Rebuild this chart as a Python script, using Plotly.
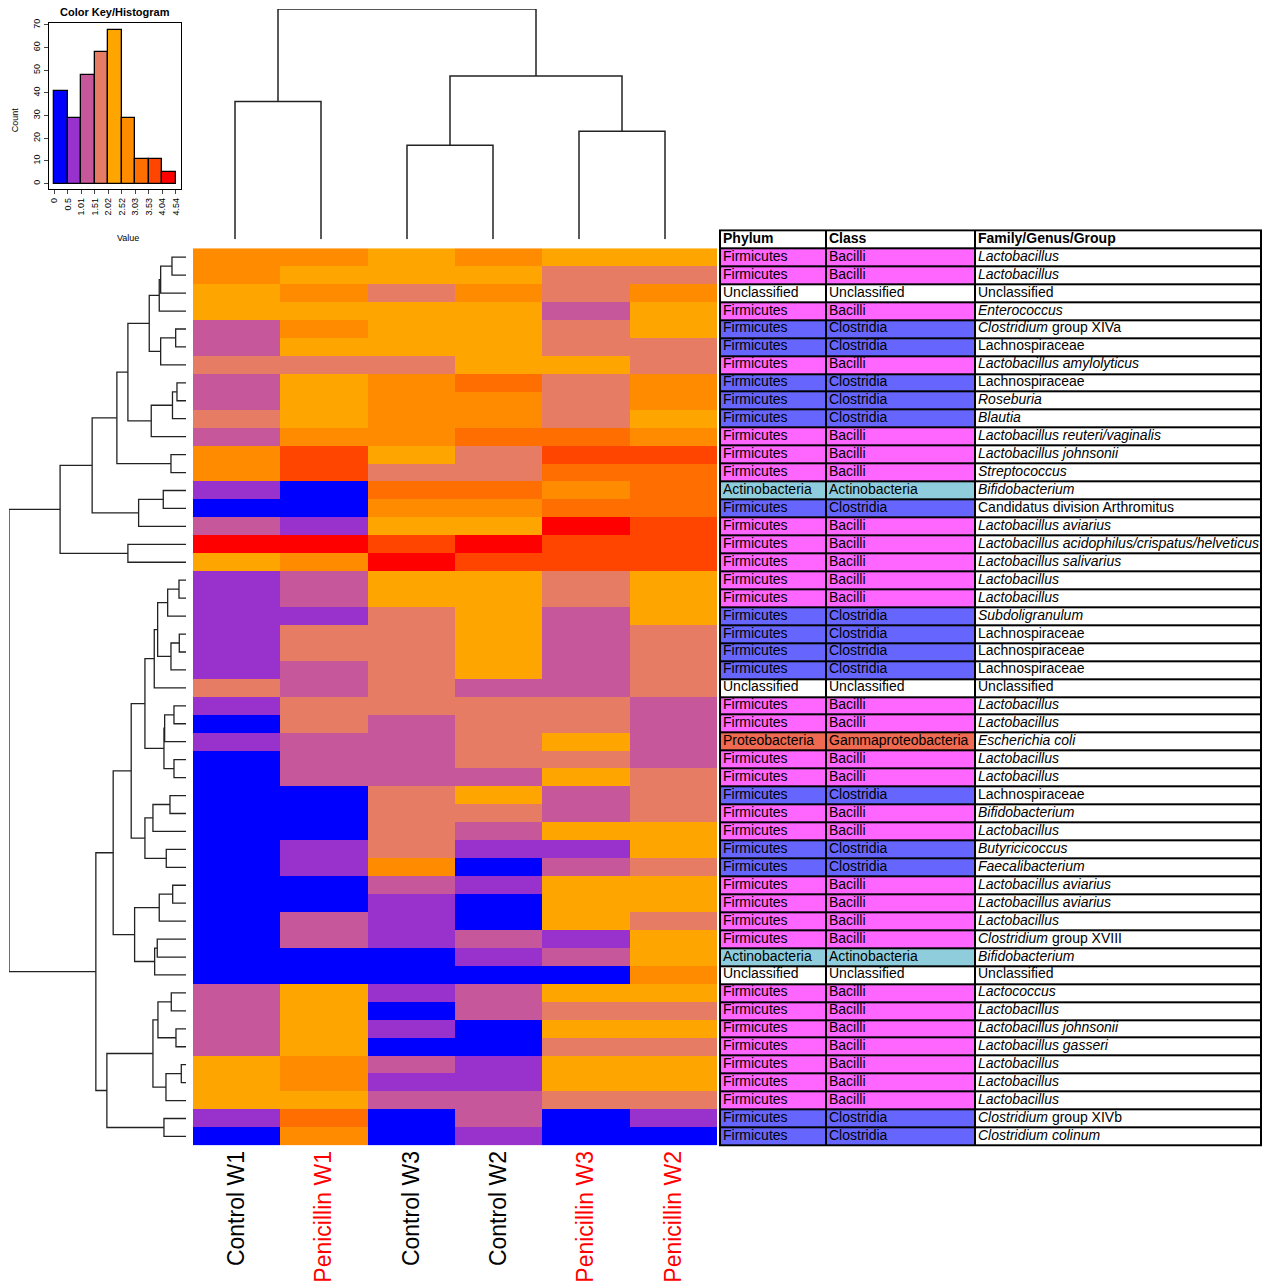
import numpy as np
import plotly.graph_objects as go

W, H = 1266, 1285

# ---------------- data ----------------
samples = ["Control W1", "Penicillin W1", "Control W3", "Control W2", "Penicillin W3", "Penicillin W2"]
sample_colors = ["black", "red", "black", "black", "red", "red"]

bin_edges = [0, 0.5, 1.01, 1.51, 2.02, 2.52, 3.03, 3.53, 4.04, 4.54]
bin_labels = ["0", "0.5", "1.01", "1.51", "2.02", "2.52", "3.03", "3.53", "4.04", "4.54"]
bin_colors = ["#0000FF", "#9932CC", "#C5579A", "#E67C64", "#FFA500",
              "#FF8C00", "#FF6E00", "#FF4500", "#FF0000"]

control_w1 = [2.78, 2.78, 2.27, 2.27, 1.26, 1.26, 1.77, 1.26, 1.26, 1.77,
              1.26, 2.78, 2.78, 0.76, 0.25, 1.26, 4.29, 2.27, 0.76, 0.76,
              0.76, 0.76, 0.76, 0.76, 1.77, 0.76, 0.25, 0.76, 0.25, 0.25,
              0.25, 0.25, 0.25, 0.25, 0.25, 0.25, 0.25, 0.25, 0.25, 0.25,
              0.25, 1.26, 1.26, 1.26, 1.26, 2.27, 2.27, 2.27, 0.76, 0.25]
penicillin_w1 = [2.78, 2.27, 2.78, 2.27, 2.78, 2.27, 1.77, 2.27, 2.27, 2.27,
                 2.78, 3.79, 3.79, 0.25, 0.25, 0.76, 4.29, 2.78, 1.26, 1.26,
                 0.76, 1.77, 1.77, 1.26, 1.26, 1.77, 1.77, 1.26, 1.26, 1.26,
                 0.25, 0.25, 0.25, 0.76, 0.76, 0.25, 0.25, 1.26, 1.26, 0.25,
                 0.25, 2.27, 2.27, 2.27, 2.27, 2.78, 2.78, 2.27, 3.28, 2.78]
control_w3 = [2.27, 2.27, 1.77, 2.27, 2.27, 2.27, 1.77, 2.78, 2.78, 2.78,
              2.78, 2.27, 1.77, 3.28, 2.78, 2.27, 3.79, 4.29, 2.27, 2.27,
              1.77, 1.77, 1.77, 1.77, 1.77, 1.77, 1.26, 1.26, 1.26, 1.26,
              1.77, 1.77, 1.77, 1.77, 2.78, 1.26, 0.76, 0.76, 0.76, 0.25,
              0.25, 0.76, 0.25, 0.76, 0.25, 1.26, 0.76, 1.26, 0.25, 0.25]
control_w2 = [2.78, 2.27, 2.78, 2.27, 2.27, 2.27, 2.27, 3.28, 2.78, 2.78,
              3.28, 1.77, 1.77, 3.28, 2.78, 2.27, 4.29, 3.79, 2.27, 2.27,
              2.27, 2.27, 2.27, 2.27, 1.26, 1.77, 1.77, 1.77, 1.77, 1.26,
              2.27, 1.77, 1.26, 0.76, 0.25, 0.76, 0.25, 0.25, 1.26, 0.76,
              0.25, 1.26, 1.26, 0.25, 0.25, 0.76, 0.76, 1.26, 1.26, 0.76]
penicillin_w3 = [2.27, 1.77, 1.77, 1.26, 1.77, 1.77, 2.27, 1.77, 1.77, 1.77,
                 3.28, 3.79, 3.28, 2.78, 3.28, 4.29, 3.79, 3.79, 1.77, 1.77,
                 1.26, 1.26, 1.26, 1.26, 1.26, 1.77, 1.77, 2.27, 1.77, 2.27,
                 1.26, 1.26, 2.27, 0.76, 1.26, 2.27, 2.27, 2.27, 0.76, 1.26,
                 0.25, 2.27, 1.77, 2.27, 1.77, 2.27, 2.27, 1.77, 0.25, 0.25]
penicillin_w2 = [2.27, 1.77, 2.78, 2.27, 2.27, 1.77, 1.77, 2.78, 2.78, 2.27,
                 2.78, 3.79, 3.28, 3.28, 3.28, 3.79, 3.79, 3.79, 2.27, 2.27,
                 2.27, 1.77, 1.77, 1.77, 1.77, 1.26, 1.26, 1.26, 1.26, 1.77,
                 1.77, 1.77, 2.27, 2.27, 1.77, 2.27, 2.27, 1.77, 2.27, 2.27,
                 2.78, 2.27, 1.77, 2.27, 1.77, 2.27, 2.27, 1.77, 0.76, 0.25]

phylum = (["Firmicutes"] * 2 + ["Unclassified"] + ["Firmicutes"] * 10 +
          ["Actinobacteria"] + ["Firmicutes"] * 10 + ["Unclassified"] + ["Firmicutes"] * 2 +
          ["Proteobacteria"] + ["Firmicutes"] * 11 + ["Actinobacteria", "Unclassified"] +
          ["Firmicutes"] * 9)
klass = ["Bacilli", "Bacilli", "Unclassified", "Bacilli", "Clostridia", "Clostridia", "Bacilli",
         "Clostridia", "Clostridia", "Clostridia", "Bacilli", "Bacilli", "Bacilli",
         "Actinobacteria", "Clostridia", "Bacilli", "Bacilli", "Bacilli", "Bacilli", "Bacilli",
         "Clostridia", "Clostridia", "Clostridia", "Clostridia", "Unclassified", "Bacilli",
         "Bacilli", "Gammaproteobacteria", "Bacilli", "Bacilli", "Clostridia", "Bacilli",
         "Bacilli", "Clostridia", "Clostridia", "Bacilli", "Bacilli", "Bacilli", "Bacilli",
         "Actinobacteria", "Unclassified", "Bacilli", "Bacilli", "Bacilli", "Bacilli",
         "Bacilli", "Bacilli", "Bacilli", "Clostridia", "Clostridia"]
family = ["<i>Lactobacillus</i>", "<i>Lactobacillus</i>", "Unclassified", "<i>Enterococcus</i>",
          "<i>Clostridium</i> group XIVa", "Lachnospiraceae", "<i>Lactobacillus amylolyticus</i>",
          "Lachnospiraceae", "<i>Roseburia</i>", "<i>Blautia</i>",
          "<i>Lactobacillus reuteri/vaginalis</i>", "<i>Lactobacillus johnsonii</i>",
          "<i>Streptococcus</i>", "<i>Bifidobacterium</i>", "Candidatus division Arthromitus",
          "<i>Lactobacillus aviarius</i>", "<i>Lactobacillus acidophilus/crispatus/helveticus</i>",
          "<i>Lactobacillus salivarius</i>", "<i>Lactobacillus</i>", "<i>Lactobacillus</i>",
          "<i>Subdoligranulum</i>", "Lachnospiraceae", "Lachnospiraceae", "Lachnospiraceae",
          "Unclassified", "<i>Lactobacillus</i>", "<i>Lactobacillus</i>", "<i>Escherichia coli</i>",
          "<i>Lactobacillus</i>", "<i>Lactobacillus</i>", "Lachnospiraceae", "<i>Bifidobacterium</i>",
          "<i>Lactobacillus</i>", "<i>Butyricicoccus</i>", "<i>Faecalibacterium</i>",
          "<i>Lactobacillus aviarius</i>", "<i>Lactobacillus aviarius</i>", "<i>Lactobacillus</i>",
          "<i>Clostridium</i> group XVIII", "<i>Bifidobacterium</i>", "Unclassified",
          "<i>Lactococcus</i>", "<i>Lactobacillus</i>", "<i>Lactobacillus johnsonii</i>",
          "<i>Lactobacillus gasseri</i>", "<i>Lactobacillus</i>", "<i>Lactobacillus</i>",
          "<i>Lactobacillus</i>", "<i>Clostridium</i> group XIVb", "<i>Clostridium colinum</i>"]
table_header = ["Phylum", "Class", "Family/Genus/Group"]
class_names = ["Unclassified", "Bacilli", "Clostridia", "Actinobacteria", "Gammaproteobacteria"]
class_fill = ["#FFFFFF", "#FF66FF", "#6666FF", "#90CDDC", "#EF6A50"]

# dendrograms: [merge height, left, right]; leaves are row / column positions
row_tree = [176.7,
            [125.7,
             [93.7,
              [69, [58, [36.7, [26.7, [25.3, [14, 0, 1], 2], 3], [25.3, [10.3, 4, 5], 6]],
                    [34.7, [13.5, [9, 7, 8], 9], 10]],
               [15, 11, 12]],
              [47.3, [22.7, 13, 14], 15]],
             [58, 16, 17]],
            [90,
             [72.7,
              [54.7,
               [41, [31.7, [28.3, [18.3, [7, 18, 19], 20], [15, [6.7, 21, 22], 23]], 24],
                [22, [21.3, [12, 25, 26], 27], [12, 28, 29]]],
               [41, [33, [16, 30, 31], 32], [19.7, 33, 34]]],
              [51.3, [26.7, [13.3, 35, 36], 37], [31.3, [28.7, 38, 39], 40]]],
             [79, [33, [28, [14.7, 41, 42], [10, 43, 44]], [20, [4.7, 45, 46], 47]],
              [22, 48, 49]]]]
col_tree = [231, [138.3, 0, 1], [163.7, [94.3, 2, 3], [108.3, 4, 5]]]


def dendro(node):
    if isinstance(node, int):
        return float(node), 0.0, [], []
    h, a, b = node
    pa, ha, pa_l, ha_l = dendro(a)
    pb, hb, pb_l, hb_l = dendro(b)
    pos = pa_l + pb_l + [pa, pa, pb, pb, None]
    hts = ha_l + hb_l + [ha, h, h, hb, None]
    return (pa + pb) / 2, h, pos, hts


z = np.column_stack([control_w1, penicillin_w1, control_w3, control_w2,
                     penicillin_w3, penicillin_w2])
nrow = z.shape[0]

zmax = bin_edges[-1]
colorscale = []
for i, c in enumerate(bin_colors):
    colorscale.append([bin_edges[i] / zmax, c])
    colorscale.append([bin_edges[i + 1] / zmax, c])

counts, _ = np.histogram(z.ravel(), bins=bin_edges)
centers = [(bin_edges[i] + bin_edges[i + 1]) / 2 for i in range(len(bin_colors))]
widths = [bin_edges[i + 1] - bin_edges[i] for i in range(len(bin_colors))]


def px_x(p):
    return min(1.0, max(0.0, p / W))


def px_y(p):
    return min(1.0, max(0.0, 1 - p / H))


font_fam = "Arial, Liberation Sans, sans-serif"
fig = go.Figure()

# heatmap
fig.add_trace(go.Heatmap(z=z, x=list(range(6)), y=list(range(nrow)), colorscale=colorscale,
                         zmin=0, zmax=zmax, showscale=False, xaxis="x", yaxis="y",
                         hoverinfo="skip"))

# row dendrogram
_, _, rpos, rhts = dendro(row_tree)
fig.add_trace(go.Scatter(x=rhts, y=rpos, mode="lines", line=dict(color="#222", width=1.3),
                         xaxis="x2", yaxis="y", hoverinfo="skip", showlegend=False))

# column dendrogram
_, _, cpos, chts = dendro(col_tree)
fig.add_trace(go.Scatter(x=cpos, y=chts, mode="lines", line=dict(color="#222", width=1.5),
                         xaxis="x3", yaxis="y3", hoverinfo="skip", showlegend=False,
                         cliponaxis=False))

# color key histogram
fig.add_trace(go.Bar(x=centers, y=counts, width=widths,
                     marker=dict(color=bin_colors, line=dict(color="black", width=1.3)),
                     xaxis="x4", yaxis="y4", hoverinfo="skip", showlegend=False))

# annotation table (grid drawn as a categorical heatmap with gaps over a black backing)
col_w = [106, 149, 286]
col_edges = [0] + [int(v) for v in np.cumsum(col_w)]
cls_idx = [class_names.index(k) for k in klass]
tab_z = [[0, 0, 0]] + [[c, c, 0] for c in cls_idx]
tab_cs = []
for i, c in enumerate(class_fill):
    tab_cs.append([i / len(class_fill), c])
    tab_cs.append([(i + 1) / len(class_fill), c])
fig.add_trace(go.Heatmap(z=tab_z, x=col_edges, y=list(range(nrow + 2)), colorscale=tab_cs,
                         zmin=-0.5, zmax=len(class_fill) - 0.5, showscale=False,
                         xgap=2, ygap=2, xaxis="x5", yaxis="y5", hoverinfo="skip"))

tx, ty, tt = [], [], []
for j, txt in enumerate(table_header):
    tx.append(col_edges[j] + 3)
    ty.append(0.5)
    tt.append(f"<b>{txt}</b>")
for i in range(nrow):
    for j, txt in enumerate([phylum[i], klass[i], family[i]]):
        tx.append(col_edges[j] + 3)
        ty.append(i + 1.5)
        tt.append(txt)
fig.add_trace(go.Scatter(x=tx, y=ty, text=tt, mode="text", textposition="middle right",
                         textfont=dict(family=font_fam, size=14, color="black"),
                         xaxis="x5", yaxis="y5", hoverinfo="skip", showlegend=False,
                         cliponaxis=False))

ticktext = [f"<span style='color:{c}'>{s}</span>" for s, c in zip(samples, sample_colors)]
axis_off = dict(showgrid=False, zeroline=False, showticklabels=False, ticks="", showline=False)
tab_h = nrow + 1

fig.update_layout(
    width=W, height=H, margin=dict(l=0, r=0, t=0, b=0),
    paper_bgcolor="white", plot_bgcolor="white", showlegend=False,
    font=dict(family=font_fam, color="black"),
    xaxis=dict(domain=[px_x(193), px_x(717)], range=[-0.5, 5.5], tickvals=list(range(6)),
               ticktext=ticktext, tickangle=-90, tickfont=dict(size=23, family=font_fam),
               showgrid=False, zeroline=False, ticks="", showline=False),
    yaxis=dict(domain=[px_y(1145), px_y(245)], range=[nrow - 0.5, -0.5], **axis_off),
    xaxis2=dict(domain=[px_x(9), px_x(186)], range=[row_tree[0], 0], anchor="y", **axis_off),
    xaxis3=dict(domain=[px_x(192), px_x(708)], range=[-0.5, 5.5], anchor="y3", **axis_off),
    yaxis3=dict(domain=[px_y(236), px_y(5)], range=[0, col_tree[0]], anchor="x3", **axis_off),
    xaxis4=dict(domain=[px_x(49), px_x(181)], range=[-0.2, 4.74], anchor="y4",
                tickvals=bin_edges, ticktext=bin_labels, tickangle=-90,
                tickfont=dict(size=9), ticks="outside", ticklen=4, showline=True,
                mirror=True, linecolor="black", linewidth=1, showgrid=False, zeroline=False),
    yaxis4=dict(domain=[px_y(186), px_y(19)], range=[-2.6, 70.9], anchor="x4",
                tickvals=list(range(0, 71, 10)), tickangle=-90, tickfont=dict(size=9),
                ticks="outside", ticklen=4, showline=True, mirror=True, linecolor="black",
                linewidth=1, showgrid=False, zeroline=False),
    xaxis5=dict(domain=[px_x(719), px_x(1262)], range=[-1, col_edges[-1] + 1], anchor="y5",
                **axis_off),
    yaxis5=dict(domain=[px_y(1146), px_y(226)], range=[tab_h + 1 / 18, -1 / 18],
                anchor="x5", **axis_off),
    bargap=0,
    shapes=[dict(type="rect", xref="x5", yref="y5", x0=-1, x1=col_edges[-1] + 1,
                 y0=-1 / 18, y1=tab_h + 1 / 18, fillcolor="black", line=dict(width=0),
                 layer="below")],
    annotations=[
        dict(text="<b>Color Key/Histogram</b>", x=px_x(115), y=px_y(8), xref="paper",
             yref="paper", showarrow=False, font=dict(size=11), xanchor="center",
             yanchor="middle"),
        dict(text="Count", x=px_x(8), y=px_y(102), xref="paper", yref="paper",
             showarrow=False, font=dict(size=9), textangle=-90),
        dict(text="Value", x=px_x(115), y=px_y(228), xref="paper", yref="paper",
             showarrow=False, font=dict(size=9)),
    ],
)

fig.write_html("out.html", config={"displayModeBar": False},
               post_script="document.body.style.margin='0px';")
